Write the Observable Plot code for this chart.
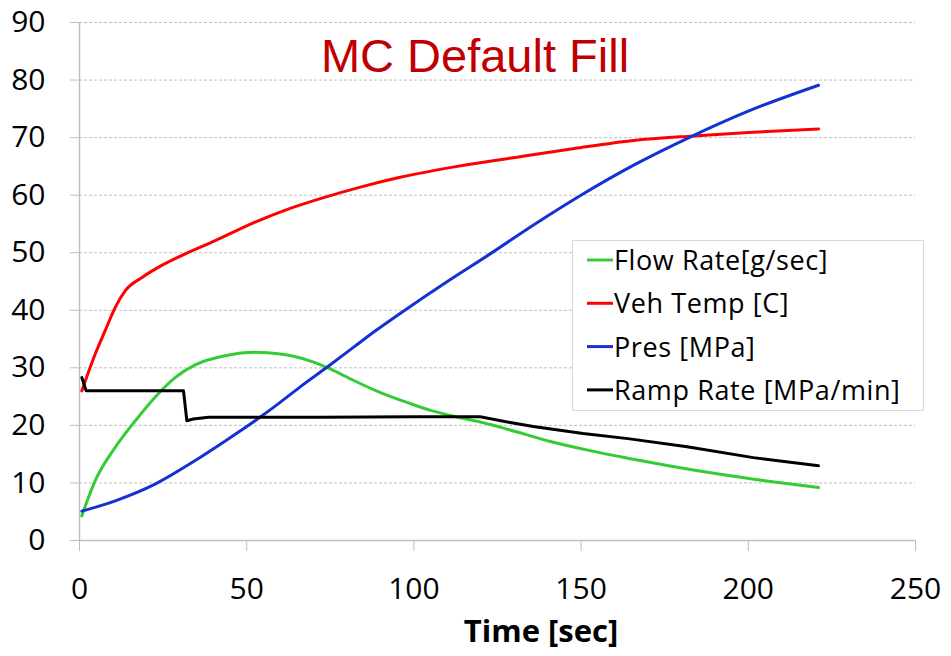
<!DOCTYPE html>
<html><head><meta charset="utf-8">
<script src="https://cdn.jsdelivr.net/npm/d3@7"></script>
<script src="https://cdn.jsdelivr.net/npm/@observablehq/plot@0.6"></script>
<style>body{margin:0;background:#fff}</style>
</head><body><div id="chart"></div>
<script>
// ---- data (time [sec], value) ----
const flowRate = [[0.7,4.3],[4.7,10.4],[10.7,16.2],[16.7,20.8],[22.6,24.9],[28.6,28.3],[34.6,30.5],[43.6,32.1],[52.5,32.7],[60,32.4],[64,32.0],[70,31.0],[75,29.8],[82,27.8],[90,25.7],[97.9,24.0],[105,22.6],[111.8,21.6],[119.8,20.6],[128.8,19.2],[140.8,17.2],[152,15.7],[164,14.3],[177,12.9],[191.6,11.5],[206,10.3],[221,9.2]];
const vehTemp = [[0.7,26],[4.7,32.4],[7.7,36.5],[10.7,40.5],[13.7,43.4],[18.7,45.7],[24.6,47.8],[31.6,49.8],[40.6,52.1],[52,55.2],[62,57.5],[72,59.4],[84,61.4],[95.9,63.1],[113,65],[130.8,66.6],[148,68.1],[165.7,69.5],[183.6,70.3],[200,70.9],[221,71.5]];
const pres = [[0.7,5.1],[10.7,6.9],[22.6,9.8],[34.6,13.9],[43.6,17.3],[52.5,20.8],[60,24],[66,26.7],[74,30.1],[82,33.6],[88.4,36.4],[96,39.5],[110,45],[122.8,49.8],[136,54.9],[149.7,59.9],[166,65.3],[182.6,70.1],[200,74.6],[221,79.1]];
const rampRate = [[0.7,28.3],[2,26],[31.1,26],[32.1,20.8],[34,21.1],[38.6,21.4],[72,21.4],[100,21.5],[119.8,21.5],[128.8,20.5],[135.7,19.8],[150.6,18.6],[164,17.7],[181.7,16.3],[201.5,14.4],[221,13.0]];

const seriesNames = ["Flow Rate[g/sec]", "Veh Temp [C]", "Pres [MPa]", "Ramp Rate [MPa/min]"];
const seriesColors = ["#33cc33", "#ff0000", "#1432d2", "#000000"];
const seriesData = [flowRate, vehTemp, pres, rampRate];
const xTicks = [0, 50, 100, 150, 200, 250];
const yTicks = [0, 10, 20, 30, 40, 50, 60, 70, 80, 90];
const titleText = "MC Default Fill";
const xLabel = "Time [sec]";

const toRows = (arr, i) => arr.map(([t, v]) => ({t, v, s: seriesNames[i]}));

const plot = Plot.plot({
  width: 951, height: 656,
  marginLeft: 79, marginRight: 36, marginTop: 22, marginBottom: 116,
  style: {fontFamily: "'Open Sans', sans-serif", fontSize: "30px", color: "#000", background: "#fff", overflow: "visible"},
  x: {domain: [0, 250], ticks: xTicks, label: null},
  y: {domain: [0, 90], ticks: yTicks, label: null},
  marks: [
    Plot.gridY(yTicks, {stroke: "#bfbfbf", strokeOpacity: 1, strokeDasharray: "3,2"}),
    Plot.axisY(yTicks, {tickSize: 9, tickPadding: 25, stroke: "#bfbfbf", fill: "#000", label: null}),
    Plot.axisX(xTicks, {tickSize: 11, tickPadding: 26, stroke: "#bfbfbf", fill: "#000", label: null}),
    Plot.ruleY([0], {stroke: "#bfbfbf", strokeWidth: 1.5}),
    Plot.ruleX([0], {stroke: "#bfbfbf", strokeWidth: 1.5}),
    ...seriesData.map((arr, i) => Plot.line(toRows(arr, i), {
      x: "t", y: "v", stroke: seriesColors[i], strokeWidth: 3,
      curve: i === 3 ? "linear" : "monotone-x"
    }))
  ]
});

const svg = d3.select(plot);
// title
svg.append("text").attr("x", 475).attr("y", 72).attr("text-anchor", "middle")
  .attr("font-family", "'Liberation Sans', Arial, sans-serif").attr("font-size", 47)
  .attr("fill", "#c00000").text(titleText);
// x-axis label
svg.append("text").attr("x", 541).attr("y", 642).attr("text-anchor", "middle")
  .attr("font-family", "'Open Sans', sans-serif").attr("font-weight", "bold").attr("font-size", 31)
  .attr("fill", "#000").text(xLabel);
// legend
const lg = svg.append("g");
lg.append("rect").attr("x", 572.5).attr("y", 240.5).attr("width", 351).attr("height", 170)
  .attr("fill", "#fff").attr("stroke", "#d9d9d9");
seriesNames.forEach((name, i) => {
  const base = 270 + i * 43.3;
  lg.append("line").attr("x1", 587).attr("x2", 613).attr("y1", base - 10).attr("y2", base - 10)
    .attr("stroke", seriesColors[i]).attr("stroke-width", 3);
  lg.append("text").attr("x", 614).attr("y", base).attr("text-anchor", "start")
    .attr("font-family", "'Open Sans', sans-serif").attr("font-size", 27).attr("letter-spacing", "0.6px")
    .attr("fill", "#000").text(name);
});

document.getElementById("chart").appendChild(plot);
</script>
</body></html>
